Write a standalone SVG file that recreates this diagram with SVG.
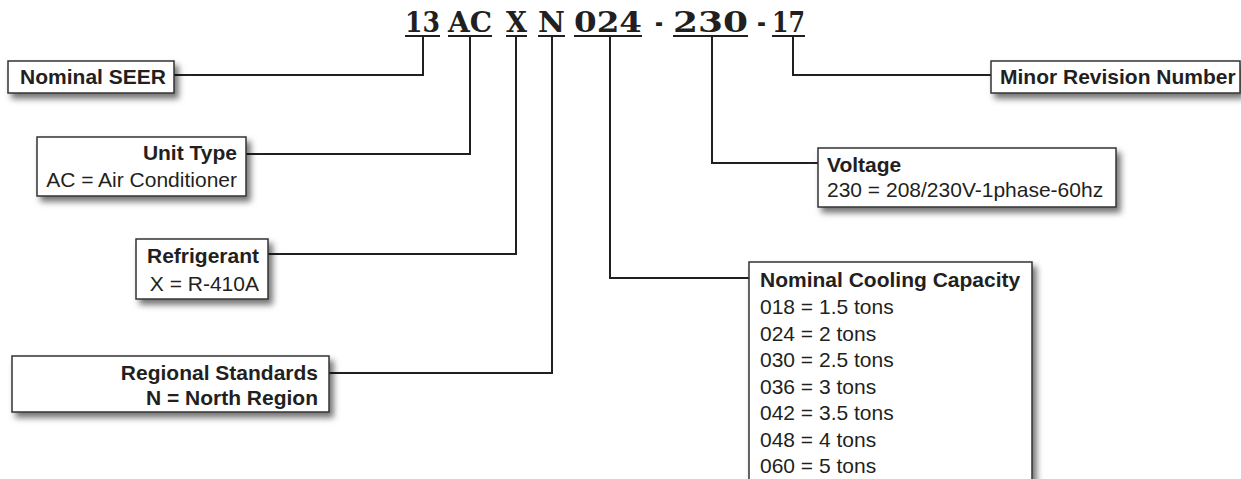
<svg xmlns="http://www.w3.org/2000/svg" width="1241" height="479" viewBox="0 0 1241 479">
<style>
.box{fill:#fff;stroke:#333;stroke-width:1.5}
.t{font-family:"Liberation Sans",Arial,sans-serif;font-size:21px;fill:#231f20}
.b{font-weight:bold}
.code{font-family:"DejaVu Serif","Liberation Serif",serif;font-weight:bold;font-size:28px;fill:#231f20}
.conn{fill:none;stroke:#231f20;stroke-width:2}
</style>
<defs>
<filter id="sh" x="-10%" y="-20%" width="130%" height="160%">
<feDropShadow dx="4" dy="5" stdDeviation="3" flood-color="#000" flood-opacity="0.55"/>
</filter>
</defs>
<rect width="1241" height="479" fill="#fff"/>
<g id="code">
<text class="code" x="405" y="32" textLength="35" lengthAdjust="spacingAndGlyphs">13</text>
<text class="code" x="448" y="32" textLength="44" lengthAdjust="spacingAndGlyphs">AC</text>
<text class="code" x="506" y="32" textLength="21" lengthAdjust="spacingAndGlyphs">X</text>
<text class="code" x="538" y="32" textLength="27" lengthAdjust="spacingAndGlyphs">N</text>
<text class="code" x="574" y="32" textLength="68" lengthAdjust="spacingAndGlyphs">024</text>
<text class="code" x="655" y="32" textLength="8" lengthAdjust="spacingAndGlyphs">-</text>
<text class="code" x="673" y="32" textLength="75" lengthAdjust="spacingAndGlyphs">230</text>
<text class="code" x="757" y="32" textLength="9" lengthAdjust="spacingAndGlyphs">-</text>
<text class="code" x="772" y="32" textLength="33" lengthAdjust="spacingAndGlyphs">17</text>
<g class="conn">
<line x1="405" y1="36" x2="440" y2="36"/>
<line x1="448" y1="36" x2="492" y2="36"/>
<line x1="506" y1="36" x2="527" y2="36"/>
<line x1="538" y1="36" x2="565" y2="36"/>
<line x1="574" y1="36" x2="642" y2="36"/>
<line x1="673" y1="36" x2="748" y2="36"/>
<line x1="772" y1="36" x2="805" y2="36"/>
</g>
</g>
<g id="connectors" class="conn">
<path d="M174 75H423V36"/>
<path d="M246 154H470V36"/>
<path d="M268 254H516V36"/>
<path d="M329 373H552V36"/>
<path d="M749 278H610V36"/>
<path d="M818 163H712V36"/>
<path d="M991 75H793V36"/>
</g>
<g id="seer">
<rect class="box" filter="url(#sh)" x="8" y="61" width="166" height="32"/>
<text class="t b" x="93" y="84" text-anchor="middle">Nominal SEER</text>
</g>
<g id="unittype">
<rect class="box" filter="url(#sh)" x="37" y="137" width="209" height="59"/>
<text class="t b" x="237" y="160" text-anchor="end">Unit Type</text>
<text class="t" x="237" y="187" text-anchor="end">AC = Air Conditioner</text>
</g>
<g id="refrigerant">
<rect class="box" filter="url(#sh)" x="136" y="239" width="132" height="60"/>
<text class="t b" x="259" y="263" text-anchor="end">Refrigerant</text>
<text class="t" x="259" y="291" text-anchor="end">X = R-410A</text>
</g>
<g id="regional">
<rect class="box" filter="url(#sh)" x="12" y="356" width="317" height="56"/>
<text class="t b" x="318" y="380" text-anchor="end">Regional Standards</text>
<text class="t b" x="318" y="405" text-anchor="end">N = North Region</text>
</g>
<g id="cooling">
<rect class="box" filter="url(#sh)" x="749" y="262" width="283" height="240"/>
<text class="t b" x="760" y="287">Nominal Cooling Capacity</text>
<text class="t" x="760" y="314">018 = 1.5 tons</text>
<text class="t" x="760" y="341">024 = 2 tons</text>
<text class="t" x="760" y="367">030 = 2.5 tons</text>
<text class="t" x="760" y="394">036 = 3 tons</text>
<text class="t" x="760" y="420">042 = 3.5 tons</text>
<text class="t" x="760" y="447">048 = 4 tons</text>
<text class="t" x="760" y="473">060 = 5 tons</text>
</g>
<g id="voltage">
<rect class="box" filter="url(#sh)" x="818" y="148" width="298" height="59"/>
<text class="t b" x="827" y="172">Voltage</text>
<text class="t" x="827" y="197">230 = 208/230V-1phase-60hz</text>
</g>
<g id="minor">
<rect class="box" filter="url(#sh)" x="991" y="61" width="249" height="32"/>
<text class="t b" x="1000" y="84">Minor Revision Number</text>
</g>
</svg>
